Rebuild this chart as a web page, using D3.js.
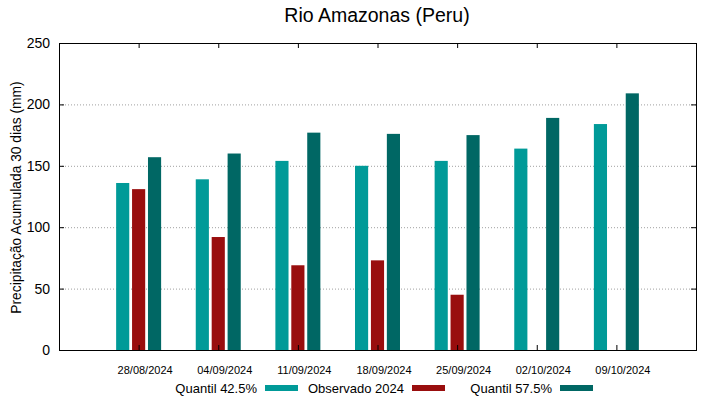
<!DOCTYPE html>
<html>
<head>
<meta charset="utf-8">
<script src="https://cdn.jsdelivr.net/npm/d3@7"></script>
<style>
  body { margin: 0; background: #fff; }
  svg { font-family: "Liberation Sans", Arial, sans-serif; }
</style>
</head>
<body>
<div id="chart-area"></div>
<script>
// data
var dates = ["28/08/2024", "04/09/2024", "11/09/2024", "18/09/2024", "25/09/2024", "02/10/2024", "09/10/2024"];
var q425 = [136, 139, 154, 150, 154, 164, 184];
var obs2024 = [131, 92, 69, 73, 45, null, null];
var q575 = [157, 160, 177, 176, 175, 189, 209];
var yTicks = [0, 50, 100, 150, 200, 250];

var series = [
  {name: "Quantil 42.5%", values: q425, color: "#009a98", off: -0.2},
  {name: "Observado 2024", values: obs2024, color: "#990e0e", off: 0},
  {name: "Quantil 57.5%", values: q575, color: "#006764", off: 0.2}
];

var W = 719, H = 399;
var margin = {top: 43, right: 23, bottom: 49, left: 59};
var width = W - margin.left - margin.right;
var height = H - margin.top - margin.bottom;

var svg = d3.select("#chart-area").append("svg").attr("width", W).attr("height", H);
var g = svg.append("g").attr("transform", "translate(" + margin.left + "," + margin.top + ")");

// scales (gnuplot-like: categories at 0..6, range -1..7)
var x = d3.scaleLinear().domain([-1, dates.length]).range([0, width]);
var y = d3.scaleLinear().domain([0, 250]).range([height, 0]);
var barW = x(0.165) - x(0);

// grid
g.selectAll(".grid").data(yTicks.filter(function(d) { return d > 0 && d < 250; }))
  .enter().append("line")
  .attr("x1", 0).attr("x2", width)
  .attr("y1", function(d) { return y(d) + 0.5; }).attr("y2", function(d) { return y(d) + 0.5; })
  .attr("stroke", "#a0a0a0").attr("stroke-width", 1).attr("stroke-dasharray", "1,2");

// bars
series.forEach(function(s) {
  g.selectAll(null).data(s.values.map(function(v, i) { return {v: v, i: i}; }).filter(function(d) { return d.v != null; }))
    .enter().append("rect")
    .attr("x", function(d) { return x(d.i + s.off) - barW / 2; })
    .attr("y", function(d) { return y(d.v); })
    .attr("width", barW)
    .attr("height", function(d) { return height - y(d.v); })
    .attr("fill", s.color);
});

// axes
var idx = d3.range(dates.length);
g.append("g").attr("class", "x axis").attr("transform", "translate(0," + height + ")")
  .call(d3.axisBottom(x).tickValues(idx).tickFormat(function(i) { return dates[i]; }).tickSizeInner(-5).tickSizeOuter(0).tickPadding(16))
  .call(function(a) {
    a.select(".domain").remove();
    a.selectAll("text").attr("dx", 6).attr("font-size", "11px").attr("fill", "#000").attr("font-family", "Liberation Sans, Arial, sans-serif");
  });
g.append("g").attr("class", "x axis top")
  .call(d3.axisTop(x).tickValues(idx).tickFormat("").tickSizeInner(-5).tickSizeOuter(0))
  .call(function(a) { a.select(".domain").remove(); });
g.append("g").attr("class", "y axis")
  .call(d3.axisLeft(y).tickValues(yTicks).tickSizeInner(-5).tickSizeOuter(0).tickPadding(9))
  .call(function(a) { a.select(".domain").remove(); a.selectAll("text").attr("font-size", "14px").attr("fill", "#000").attr("font-family", "Liberation Sans, Arial, sans-serif"); });
g.append("g").attr("class", "y axis right").attr("transform", "translate(" + width + ",0)")
  .call(d3.axisRight(y).tickValues(yTicks).tickFormat("").tickSizeInner(-5).tickSizeOuter(0))
  .call(function(a) { a.select(".domain").remove(); });
g.selectAll(".tick line").attr("stroke", "#000");

// frame
g.append("rect").attr("x", 0.5).attr("y", 0.5).attr("width", width).attr("height", height)
  .attr("fill", "none").attr("stroke", "#000").attr("stroke-width", 1);

// title & label
svg.append("text").attr("x", 377).attr("y", 22).attr("text-anchor", "middle")
  .attr("font-size", "19.5px").text("Rio Amazonas (Peru)");
svg.append("text").attr("transform", "translate(21," + (margin.top + height / 2 + 1) + ") rotate(-90)")
  .attr("text-anchor", "middle").attr("font-size", "13.8px").text("Precipitação Acumulada 30 dias (mm)");

// legend
var legEnd = [257, 404, 552];
series.forEach(function(s, k) {
  svg.append("text").attr("x", legEnd[k]).attr("y", 393).attr("text-anchor", "end")
    .attr("font-size", "13px").text(s.name);
  svg.append("rect").attr("x", legEnd[k] + 8).attr("y", 385).attr("width", 33).attr("height", 6)
    .attr("fill", s.color);
});
</script>
</body>
</html>
